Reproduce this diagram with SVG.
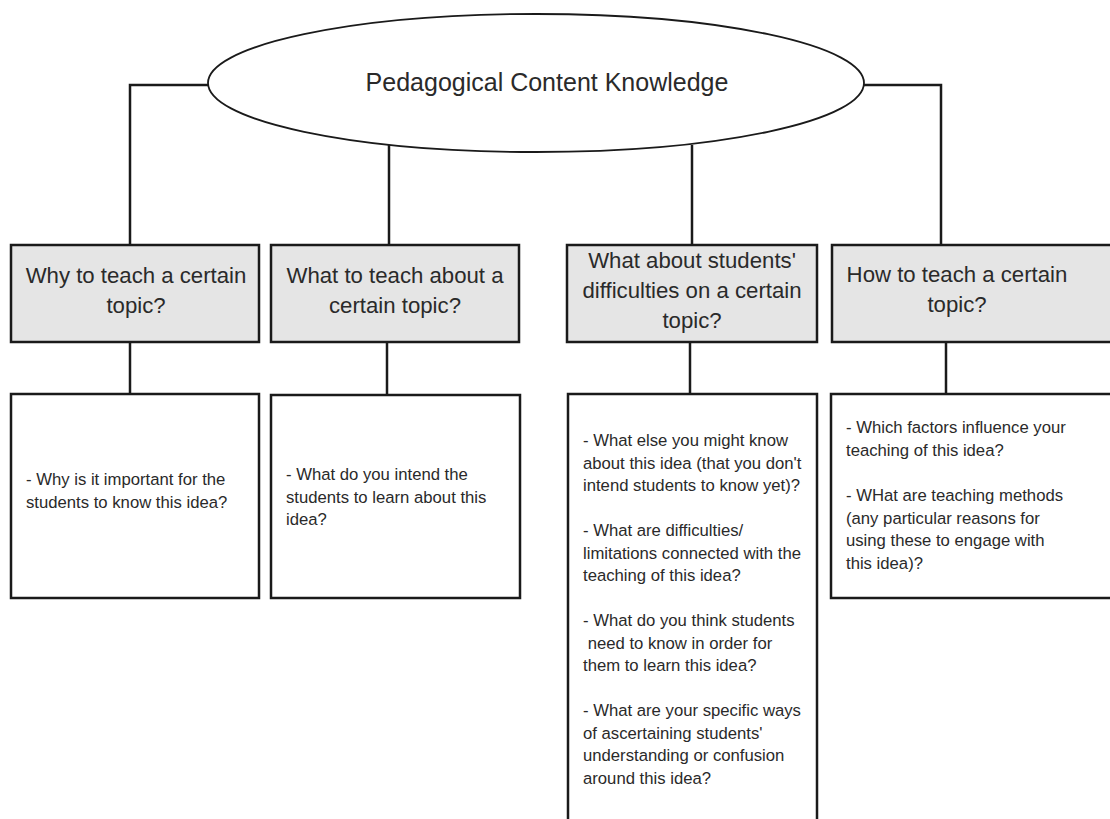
<svg xmlns="http://www.w3.org/2000/svg" width="1110" height="819" viewBox="0 0 1110 819">
<style>
text{font-family:"Liberation Sans",Arial,sans-serif;fill:#2a2a2a}
.hd{fill:#e5e5e5;stroke:#1a1a1a;stroke-width:2.5}
.bx{fill:#fff;stroke:#1a1a1a;stroke-width:2.5}
.h{font-size:22.2px;text-anchor:middle}
.b{font-size:16.7px}
.c{fill:none;stroke:#1a1a1a;stroke-width:2.5}
</style>
<rect width="1110" height="819" fill="#fff"/>
<g id="connectors">
<path class="c" d="M208,85 H130 V245"/>
<path class="c" d="M389,145 V245"/>
<path class="c" d="M692,145 V245"/>
<path class="c" d="M864,85 H941 V245"/>
<path class="c" d="M130,342 V394"/>
<path class="c" d="M387,342 V394"/>
<path class="c" d="M690,342 V394"/>
<path class="c" d="M946,342 V394"/>
</g>
<g id="root">
<ellipse cx="536" cy="83" rx="328" ry="69" fill="#fff" stroke="#1a1a1a" stroke-width="1.8"/>
<text x="547" y="91" font-size="25" text-anchor="middle">Pedagogical Content Knowledge</text>
</g>
<g id="h1">
<rect class="hd" x="11" y="245" width="248" height="97"/>
<text class="h" x="136" y="283">Why to teach a certain</text>
<text class="h" x="136" y="313">topic?</text>
</g>
<g id="h2">
<rect class="hd" x="271" y="245" width="248" height="97"/>
<text class="h" x="395" y="283">What to teach about a</text>
<text class="h" x="395" y="313">certain topic?</text>
</g>
<g id="h3">
<rect class="hd" x="567" y="245" width="250" height="97"/>
<text class="h" x="692" y="268">What about students'</text>
<text class="h" x="692" y="298">difficulties on a certain</text>
<text class="h" x="692" y="328">topic?</text>
</g>
<g id="h4">
<rect class="hd" x="832" y="245" width="290" height="97"/>
<text class="h" x="957" y="282">How to teach a certain</text>
<text class="h" x="957" y="312">topic?</text>
</g>
<g id="b1">
<rect class="bx" x="11" y="394" width="248" height="204"/>
<text class="b" x="26" y="485">- Why is it important for the</text>
<text class="b" x="26" y="507.5">students to know this idea?</text>
</g>
<g id="b2">
<rect class="bx" x="271" y="395" width="249" height="203"/>
<text class="b" x="286" y="480">- What do you intend the</text>
<text class="b" x="286" y="502.5">students to learn about this</text>
<text class="b" x="286" y="525">idea?</text>
</g>
<g id="b3">
<rect class="bx" x="568" y="394" width="249" height="440"/>
<text class="b" x="583" y="446">- What else you might know</text>
<text class="b" x="583" y="468.5">about this idea (that you don't</text>
<text class="b" x="583" y="491">intend students to know yet)?</text>
<text class="b" x="583" y="536">- What are difficulties/</text>
<text class="b" x="583" y="558.5">limitations connected with the</text>
<text class="b" x="583" y="581">teaching of this idea?</text>
<text class="b" x="583" y="626">- What do you think students</text>
<text class="b" x="583" y="648.5" xml:space="preserve"> need to know in order for</text>
<text class="b" x="583" y="671">them to learn this idea?</text>
<text class="b" x="583" y="716">- What are your specific ways</text>
<text class="b" x="583" y="738.5">of ascertaining students'</text>
<text class="b" x="583" y="761">understanding or confusion</text>
<text class="b" x="583" y="783.5">around this idea?</text>
</g>
<g id="b4">
<rect class="bx" x="831" y="394" width="290" height="204"/>
<text class="b" x="846" y="433">- Which factors influence your</text>
<text class="b" x="846" y="455.5">teaching of this idea?</text>
<text class="b" x="846" y="501">- WHat are teaching methods</text>
<text class="b" x="846" y="523.5">(any particular reasons for</text>
<text class="b" x="846" y="546">using these to engage with</text>
<text class="b" x="846" y="568.5">this idea)?</text>
</g>
</svg>
